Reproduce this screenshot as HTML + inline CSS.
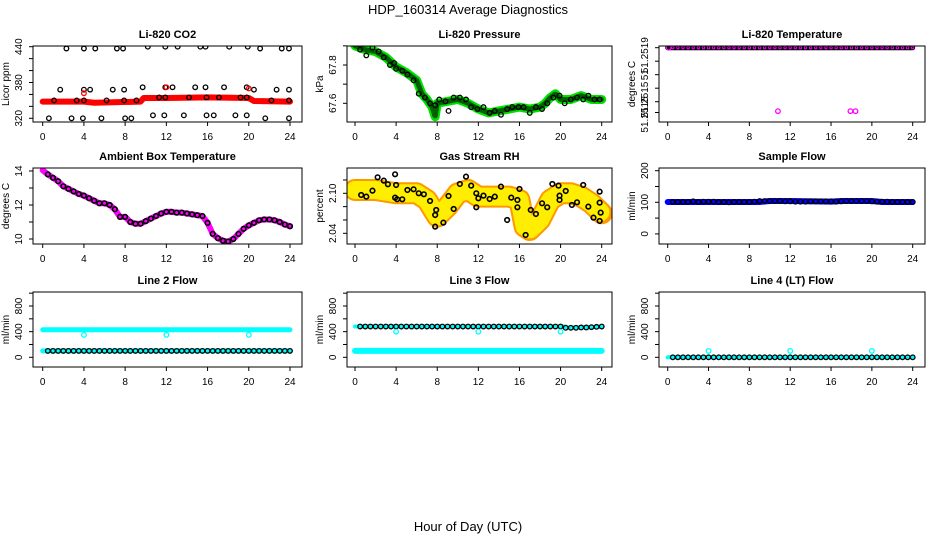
<!DOCTYPE html>
<html><head><meta charset="utf-8"><style>
body{margin:0;background:#fff;}
svg{display:block;font-family:"Liberation Sans",sans-serif;}
</style></head><body>
<svg id="c" width="936" height="540" viewBox="0 0 936 540">
<text x="468" y="14" text-anchor="middle" font-size="13">HDP_160314  Average Diagnostics</text>
<text x="468" y="531" text-anchor="middle" font-size="13">Hour of Day (UTC)</text>
</svg>
<script>
const xTicks=[0,4,8,12,16,20,24];
const hh=[0.5,1,1.5,2,2.5,3,3.5,4,4.5,5,5.5,6,6.5,7,7.5,8,8.5,9,9.5,10,10.5,11,11.5,12,12.5,13,13.5,14,14.5,15,15.5,16,16.5,17,17.5,18,18.5,19,19.5,20,20.5,21,21.5,22,22.5,23,23.5,24];
// CO2
const co2BandT=[0,4,5,9.5,9.8,12,16,20,20.5,24];
const co2BandV=[348,348,346,348,354,354,355,354,349,348];
const co2PtT=[2.3,4,5.1,7.2,7.8,21.1,23.2,23.9,10.2,11.9,13.1,15.3,15.8,18.1,19.9,1.7,4,4.6,6.8,7.9,20.5,22.7,23.9,9.7,11.9,12.6,14.8,15.8,17.6,19.8,1.1,3.3,4,6.2,7.9,9.1,11.3,11.9,14.2,15.9,17.1,19.2,19.8,22.2,23.9,0.6,2.8,3.9,5.7,8,8.6,21.6,23.9,10.7,11.8,13.7,15.9,16.6,18.7,19.8];
const co2PtV=[437,437,437,437,437,437,437,437,440,440,440,440,440,440,440,368,368,368,368,368,368,368,368,372,372,372,372,372,372,372,350,350,350,350,350,350,355,355,355,355,355,355,355,350,350,320,320,320,320,320,320,320,320,325,325,325,325,325,325,325];
// Pressure
const prBandT=[0,1,2,3,4,5,6,6.5,7,7.5,7.8,8,9,10,11,12,13,14,15,16,17,18,18.5,19,19.5,20,21,22,23,24];
const prBandV=[67.9,67.88,67.87,67.84,67.79,67.76,67.72,67.65,67.62,67.58,67.53,67.6,67.61,67.62,67.6,67.57,67.55,67.56,67.57,67.58,67.57,67.58,67.6,67.63,67.65,67.62,67.62,67.64,67.62,67.62];
const prPtT=[0.5,1.1,1.7,2.3,2.8,3.4,3.8,4,4.6,5.1,5.7,6.2,6.8,7.3,7.8,8.2,8.8,9.1,9.6,10.2,10.8,11.3,11.9,12.5,13.1,13.6,14.2,14.8,15.3,15.9,16.4,17,17.6,18.2,18.7,19.3,19.9,20.4,21,21.6,22.2,22.7,23.3,23.8];
const prPtV=[67.88,67.85,67.89,67.87,67.84,67.8,67.81,67.78,67.77,67.75,67.72,67.65,67.63,67.6,67.59,67.62,67.61,67.56,67.63,67.63,67.62,67.58,67.57,67.58,67.55,67.56,67.54,67.57,67.58,67.58,67.58,67.55,67.58,67.57,67.6,67.63,67.64,67.6,67.62,67.63,67.62,67.64,67.62,67.62];
// Li-820 temperature
const tpBandT=[0,24];
const tpBandV=[51.2519,51.2519];
const tpPtV=hh.map(()=>51.2519);
const tpOutT=[0.1,10.8,17.9,18.4];
const tpOutV=[51.2519,51.25143,51.25143,51.25143];
// Ambient
const amPtV=[13.8,13.6,13.4,13.1,12.95,12.8,12.65,12.55,12.4,12.25,12.1,12.1,12.0,11.75,11.3,11.3,11.0,10.9,10.9,11.05,11.2,11.35,11.5,11.6,11.6,11.55,11.55,11.5,11.45,11.4,11.35,10.95,10.3,10.05,9.9,9.85,10.0,10.3,10.6,10.8,10.95,11.1,11.15,11.15,11.1,11.0,10.85,10.75];
// RH
const rhBandT=[0,2,4,6,7,8,9,10,11,12,14,15,16,16.5,17,18,19,20,21,22,23,24];
const rhBandV=[2.105,2.105,2.10,2.10,2.09,2.065,2.08,2.10,2.105,2.095,2.095,2.095,2.09,2.05,2.045,2.06,2.09,2.10,2.10,2.095,2.085,2.07];
const rhPtT=[0.6,1.1,1.7,2.2,2.8,3.2,3.9,4,3.9,4.1,4.6,5.1,5.7,6.2,6.7,7.3,7.9,7.8,7.8,8.6,9.1,9.6,10.2,10.8,11.3,11.8,11.8,12,12.5,13.1,13.6,14.2,14.8,15.2,15.8,15.8,16,16.6,17.1,17.6,18.2,18.7,19.2,19.8,19.9,19.9,20.5,21.1,21.6,22.2,22.7,23.2,23.8,23.8,23.9,23.8];
const rhPtV=[2.0975,2.095,2.104,2.124,2.119,2.1135,2.1285,2.1125,2.0935,2.091,2.091,2.105,2.106,2.10,2.0985,2.0885,2.075,2.0675,2.05,2.056,2.096,2.0765,2.114,2.125,2.1115,2.079,2.10,2.0925,2.0965,2.0915,2.095,2.11,2.06,2.0935,2.09,2.079,2.1065,2.0375,2.075,2.069,2.085,2.079,2.114,2.1115,2.0965,2.09,2.1035,2.0825,2.0865,2.1125,2.08,2.0635,2.1025,2.086,2.071,2.0585];
// Sample flow
const sfBandT=[0,9,10,12,16,17,20,21,24];
const sfBandV=[101,101,104,104,102,104,104,101,101];
const sfPtV=[101,101,101,101,103,101,102,102,102,101,101,100,101,101,101,101,102,104,104,104,104,104,103,103,102,102,102,103,103,103,103,103,102,103,104,104,104,104,104,103,102,102,102,101,101,101,101,101];
// Line flows
const l2BandT=[0,24]; const l2BandV=[430,430];
const l2Band2V=[100,100];
const l2PtV=hh.map(()=>100);
const l2OutT=[4,12,20]; const l2OutV=[350,350,350];
const l3BandT=[0,24]; const l3BandV=[100,100];
const l3Band2T=[0,20.5,20.6,24]; const l3Band2V=[480,480,465,475];
const l3PtV=[480,480,480,480,480,480,480,480,480,480,480,480,480,480,480,480,480,480,480,480,480,480,480,480,480,480,480,480,480,480,480,480,480,480,480,480,480,480,480,480,460,460,460,465,465,470,475,480];
const l3OutT=[4,12,20]; const l3OutV=[400,400,400];
const l4BandT=[0,24]; const l4BandV=[0,0];
const l4PtV=hh.map(()=>0);
const l4OutT=[4,12,20]; const l4OutV=[100,100,100];

const NS='http://www.w3.org/2000/svg';
const svg=document.getElementById('c');
function mk(tag,parent){const e=document.createElementNS(NS,tag);parent.appendChild(e);return e;}
const cols=[{l:33,r:302,x0:42.7,x24:290},{l:347,r:612,x0:355,x24:601.7},{l:659,r:925,x0:667.7,x24:912.7}];
const rows=[{t:46,b:122},{t:168,b:244},{t:292,b:367}];

function panel(o){
  const c=cols[o.col],r=rows[o.row];
  const g=mk('g',svg);
  
  
  const X=h=>c.x0+(c.x24-c.x0)*h/24;
  const Y=v=>o.ya+(o.yb-o.ya)*(v-o.va)/(o.vb-o.va);
  const t=mk('text',g);
  
  
  t.setAttribute('x',(c.l+c.r)/2);t.setAttribute('y',r.t-8);t.setAttribute('text-anchor','middle');
  t.setAttribute('font-size','11');t.setAttribute('font-weight','bold');t.textContent=o.title;
  const plot=mk('g',g);
  
  
  const cp='cp'+o.col+o.row;
  const clip=mk('clipPath',g);clip.setAttribute('id',cp);
  const cr=mk('rect',clip);cr.setAttribute('x',c.l);cr.setAttribute('y',r.t);cr.setAttribute('width',c.r-c.l);cr.setAttribute('height',r.b-r.t);
  plot.setAttribute('clip-path','url(#'+cp+')');
  (o.bands||[]).forEach(b=>{
    const p=mk('polyline',plot);
    
    
    p.setAttribute('points',b.t.map((h,i)=>X(h)+','+Y(b.v[i])).join(' '));
    p.setAttribute('fill','none');p.setAttribute('stroke',b.color);p.setAttribute('stroke-width',b.w);
    p.setAttribute('stroke-linecap','round');p.setAttribute('stroke-linejoin','round');
    if(b.dash){p.setAttribute('stroke-dasharray',b.dash);}
  });
  (o.pts||[]).forEach(s=>{
    s.t.forEach((h,i)=>{
      const ci=mk('circle',plot);
      
      
      ci.setAttribute('cx',X(h));ci.setAttribute('cy',Y(s.v[i]));ci.setAttribute('r',s.r||2.3);
      ci.setAttribute('fill','none');ci.setAttribute('stroke',s.color);ci.setAttribute('stroke-width',s.sw||1.3);
    });
  });
  const bx=mk('rect',g);
  
  
  bx.setAttribute('x',c.l);bx.setAttribute('y',r.t);bx.setAttribute('width',c.r-c.l);bx.setAttribute('height',r.b-r.t);
  bx.setAttribute('fill','none');bx.setAttribute('stroke','#000');bx.setAttribute('stroke-width','1');
  const xa=mk('g',g);
  
  
  const xl=mk('line',xa);xl.setAttribute('x1',X(0));xl.setAttribute('x2',X(24));xl.setAttribute('y1',r.b);xl.setAttribute('y2',r.b);xl.setAttribute('stroke','#000');
  xTicks.forEach(h=>{
    const tk=mk('line',xa);tk.setAttribute('x1',X(h));tk.setAttribute('x2',X(h));tk.setAttribute('y1',r.b);tk.setAttribute('y2',r.b+4);tk.setAttribute('stroke','#000');
    const tl=mk('text',xa);
    
    
    tl.setAttribute('x',X(h));tl.setAttribute('y',r.b+18);tl.setAttribute('text-anchor','middle');tl.setAttribute('font-size','10');tl.textContent=h;
  });
  const ya=mk('g',g);
  
  
  const yl=mk('line',ya);yl.setAttribute('x1',c.l);yl.setAttribute('x2',c.l);
  yl.setAttribute('y1',Y(o.ticks[0]));yl.setAttribute('y2',Y(o.ticks[o.ticks.length-1]));yl.setAttribute('stroke','#000');
  o.ticks.forEach((v,i)=>{
    const tk=mk('line',ya);tk.setAttribute('x1',c.l-4);tk.setAttribute('x2',c.l);tk.setAttribute('y1',Y(v));tk.setAttribute('y2',Y(v));tk.setAttribute('stroke','#000');
    const lab=o.labels[i];
    if(lab){
      const tl=mk('text',ya);
      
      
      const lx=c.l-11,ly=Y(v)+(o.labelShift?o.labelShift[i]:0);
      tl.setAttribute('transform','translate('+lx+','+ly+') rotate(-90)');
      tl.setAttribute('text-anchor','middle');tl.setAttribute('font-size','10');tl.setAttribute('y','0');tl.textContent=lab;
    }
  });
  const yt=mk('text',g);
  
  
  yt.setAttribute('transform','translate('+(c.l-24)+','+((r.t+r.b)/2)+') rotate(-90)');
  yt.setAttribute('text-anchor','middle');yt.setAttribute('font-size','10');yt.textContent=o.ylab;
}

panel({name:'co2-panel',col:0,row:0,title:'Li-820 CO2',ylab:'Licor ppm',va:440,ya:46.7,vb:320,yb:118.3,
  ticks:[320,340,360,380,400,420,440],labels:['320','','','380','','','440'],
  bands:[{t:co2BandT,v:co2BandV,color:'#ff0000',w:6}],
  pts:[{t:co2PtT,v:co2PtV,color:'#000'},{t:[4,12,20],v:[362,372,370],color:'#ff0000'}]});
panel({name:'pressure-panel',col:1,row:0,title:'Li-820 Pressure',ylab:'kPa',va:67.8,ya:65,vb:67.6,yb:103.3,
  ticks:[67.6,67.7,67.8,67.9],labels:['67.6','','67.8',''],
  bands:[{t:prBandT,v:prBandV,color:'#00e000',w:9},{t:prBandT,v:prBandV,color:'#006000',w:5,dash:'1 2'}],
  pts:[{t:prPtT,v:prPtV,color:'#000'}]});
panel({name:'li820-temperature-panel',col:2,row:0,title:'Li-820 Temperature',ylab:'degrees C',va:51.2519,ya:47.7,vb:51.2515,yb:101.7,
  ticks:[51.2519,51.25180,51.2517,51.2516,51.2515,51.25142],labels:['','51.2519','51','','51.2515','51.2515'],
  labelShift:[0,-6,0,0,-2,2],
  bands:[{t:tpBandT,v:tpBandV,color:'#000',w:5}],
  pts:[{t:hh,v:tpPtV,color:'#ff00ff',r:1.2,sw:1},{t:tpOutT,v:tpOutV,color:'#ff00ff'}]});
panel({name:'ambient-temperature-panel',col:0,row:1,title:'Ambient Box Temperature',ylab:'degrees C',va:14,ya:171,vb:10,yb:239,
  ticks:[10,11,12,13,14],labels:['10','','12','','14'],
  bands:[{t:[0].concat(hh),v:[14.05].concat(amPtV),color:'#ff00ff',w:6}],
  pts:[{t:hh,v:amPtV,color:'#000',sw:1.6}]});
panel({name:'gas-stream-rh-panel',col:1,row:1,title:'Gas Stream RH',ylab:'percent',va:2.10,ya:193.3,vb:2.04,yb:233.3,
  ticks:[2.04,2.06,2.08,2.10,2.12],labels:['2.04','','','2.10',''],
  bands:[{t:rhBandT,v:rhBandV,color:'#ff9900',w:22},{t:rhBandT,v:rhBandV,color:'#ffee00',w:18,dash:'2 2'}],
  pts:[{t:rhPtT,v:rhPtV,color:'#000',sw:1.6}]});
panel({name:'sample-flow-panel',col:2,row:1,title:'Sample Flow',ylab:'ml/min',va:200,ya:170.7,vb:0,yb:233.9,
  ticks:[0,50,100,150,200],labels:['0','','100','','200'],
  bands:[{t:sfBandT,v:sfBandV,color:'#0000ff',w:6}],
  pts:[{t:hh,v:sfPtV,color:'#000'}]});
panel({name:'line2-flow-panel',col:0,row:2,title:'Line 2 Flow',ylab:'ml/min',va:0,ya:357.3,vb:800,yb:306,
  ticks:[0,200,400,600,800,1000],labels:['0','','400','','800',''],
  bands:[{t:l2BandT,v:l2BandV,color:'#00ffff',w:5},{t:l2BandT,v:l2Band2V,color:'#00ffff',w:5}],
  pts:[{t:hh,v:l2PtV,color:'#000'},{t:l2OutT,v:l2OutV,color:'#00ffff'}]});
panel({name:'line3-flow-panel',col:1,row:2,title:'Line 3 Flow',ylab:'ml/min',va:0,ya:357.3,vb:800,yb:306,
  ticks:[0,200,400,600,800,1000],labels:['0','','400','','800',''],
  bands:[{t:l3BandT,v:l3BandV,color:'#00ffff',w:6},{t:l3Band2T,v:l3Band2V,color:'#00ffff',w:4}],
  pts:[{t:hh,v:l3PtV,color:'#000'},{t:l3OutT,v:l3OutV,color:'#00ffff'}]});
panel({name:'line4-flow-panel',col:2,row:2,title:'Line 4 (LT) Flow',ylab:'ml/min',va:0,ya:357.3,vb:800,yb:306,
  ticks:[0,200,400,600,800,1000],labels:['0','','400','','800',''],
  bands:[{t:l4BandT,v:l4BandV,color:'#00ffff',w:4}],
  pts:[{t:hh,v:l4PtV,color:'#000'},{t:l4OutT,v:l4OutV,color:'#00ffff'}]});
</script>
</body></html>
